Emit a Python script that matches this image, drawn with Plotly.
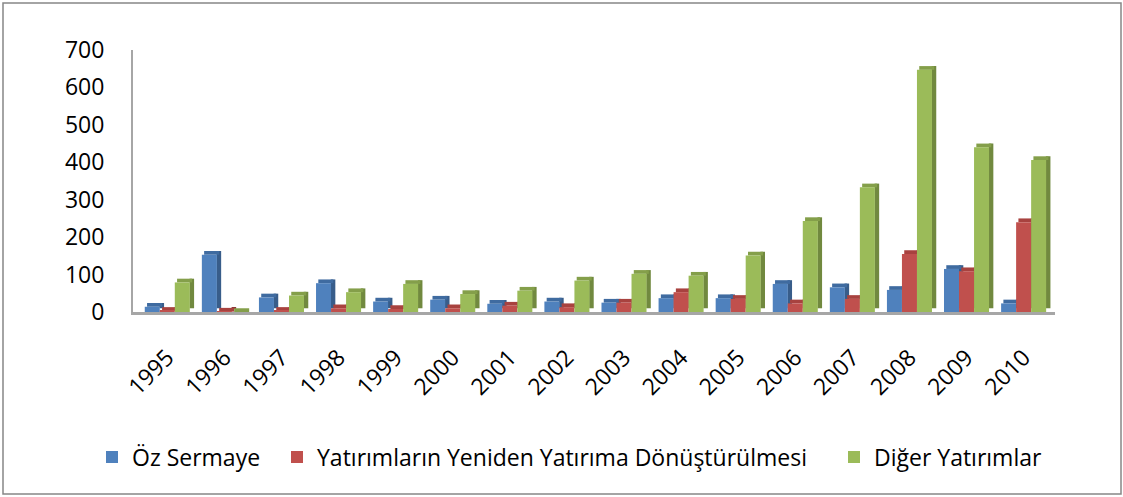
import plotly.graph_objects as go

years = ["1995", "1996", "1997", "1998", "1999", "2000", "2001", "2002",
         "2003", "2004", "2005", "2006", "2007", "2008", "2009", "2010"]
oz_sermaye = [14, 153, 39, 77, 28, 33, 22, 28, 25, 37, 37, 75, 66, 59, 115, 23]
yeniden_yatirim = [3, 1, 3, 10, 8, 10, 17, 13, 25, 53, 35, 23, 35, 155, 109, 240]
diger_yatirimlar = [79, 0, 44, 53, 75, 48, 57, 84, 102, 97, 151, 243, 333, 647, 440, 406]

series = [
    ("Öz Sermaye", oz_sermaye, "#4F81BD", "#385D8A", "#3F6BA0", "legend"),
    ("Yatırımların Yeniden Yatırıma Dönüştürülmesi", yeniden_yatirim, "#C0504D", "#8C3836", "#A8423F", "legend2"),
    ("Diğer Yatırımlar", diger_yatirimlar, "#9BBB59", "#71893F", "#849F4A", "legend3"),
]

FRONT_W = 0.263
SIDE_W = 0.08
DEPTH = 10  # vertical depth in value units
offsets = [-0.394, -0.131, 0.132]

fig = go.Figure()
# depth faces (drawn first)
for (name, vals, c, cs, ct, lg), off in zip(series, offsets):
    fig.add_trace(go.Bar(
        x=years, y=vals, base=DEPTH, offset=off + FRONT_W - 0.005, width=SIDE_W,
        marker=dict(color=cs, line=dict(width=0)), showlegend=False, hoverinfo="skip"))
    fig.add_trace(go.Bar(
        x=years, y=[DEPTH] * len(vals), base=vals, offset=off + 0.04, width=FRONT_W,
        marker=dict(color=ct, line=dict(width=0)), showlegend=False, hoverinfo="skip"))
# front faces
for (name, vals, c, cs, ct, lg), off in zip(series, offsets):
    fig.add_trace(go.Bar(
        x=years, y=vals, offset=off, width=FRONT_W, name=name, legend=lg,
        marker=dict(color=c, line=dict(width=0))))

L, R, T, B = 133, 68, 50, 185
W, H = 1123, 497
pw, ph = W - L - R, H - T - B

def px_x(p):
    return (p - L) / pw

def px_y(p):
    return (H - B - p) / ph

leg_common = dict(orientation="h", yanchor="middle", xanchor="left",
                  font=dict(size=23), bgcolor="rgba(0,0,0,0)", itemwidth=30)

fig.update_layout(
    width=W, height=H,
    margin=dict(l=L, r=R, t=T, b=B),
    paper_bgcolor="white", plot_bgcolor="white",
    barmode="overlay",
    font=dict(family="Open Sans", color="black"),
    showlegend=True,
    legend=dict(x=px_x(92), y=px_y(457), **leg_common),
    legend2=dict(x=px_x(277), y=px_y(457), **leg_common),
    legend3=dict(x=px_x(834), y=px_y(457), **leg_common),
    xaxis=dict(type="category", range=[-0.6, 15.55], showgrid=False,
               showline=True, linecolor="#A6A6A6", linewidth=3,
               tickangle=-45, tickfont=dict(size=23), ticks="",
               ticklabelstandoff=20, automargin=False),
    yaxis=dict(range=[0, 700], dtick=100, showgrid=False,
               showline=True, linecolor="#A6A6A6", linewidth=2,
               tickfont=dict(size=23), ticks="", ticklabelstandoff=22,
               automargin=False),
    shapes=[dict(type="rect", xref="paper", yref="paper",
                 x0=px_x(3), x1=px_x(1121),
                 y0=px_y(494), y1=px_y(3),
                 line=dict(color="#868686", width=1.5), fillcolor="rgba(0,0,0,0)")],
)

fig.write_html("out.html", config={"displayModeBar": False},
               post_script="document.body.style.margin='0';")
